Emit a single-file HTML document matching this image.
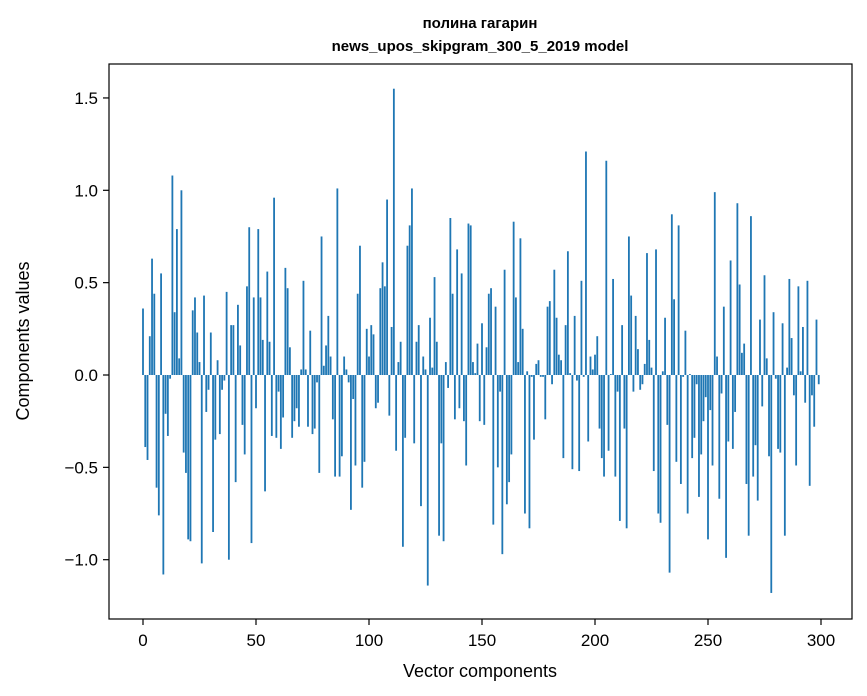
<!DOCTYPE html>
<html><head><meta charset="utf-8"><style>
html,body{margin:0;padding:0;background:#fff;}
svg{display:block;font-family:"Liberation Sans","DejaVu Sans",sans-serif;}
</style></head><body>
<svg id="chart" width="867" height="696" viewBox="0 0 867 696" xmlns="http://www.w3.org/2000/svg">
<rect width="867" height="696" fill="#fff"/>
<text x="480" y="28" text-anchor="middle" font-size="15" font-weight="bold">полина гагарин</text>
<text x="480" y="51" text-anchor="middle" font-size="15" font-weight="bold">news_upos_skipgram_300_5_2019 model</text>
<g id="bars"></g>
<g id="axes"></g>
<rect x="109" y="64" width="743" height="555" fill="none" stroke="#000" stroke-width="1.2"/>
<text x="480" y="677" text-anchor="middle" font-size="18">Vector components</text>
<text transform="translate(29,341) rotate(-90)" text-anchor="middle" font-size="18">Components values</text>
</svg>
<script>
const values = [
0.36,-0.39,-0.46,0.21,0.63,0.44,-0.61,-0.76,0.55,-1.08,
-0.21,-0.33,-0.02,1.08,0.34,0.79,0.09,1.0,-0.42,-0.53,
-0.89,-0.9,0.35,0.42,0.23,0.07,-1.02,0.43,-0.2,-0.08,
0.23,-0.85,-0.35,0.08,-0.32,-0.08,-0.03,0.45,-1.0,0.27,
0.27,-0.58,0.38,0.16,-0.27,-0.43,0.48,0.8,-0.91,0.42,
-0.18,0.79,0.42,0.19,-0.63,0.56,0.18,-0.33,0.96,-0.34,
-0.09,-0.4,-0.23,0.58,0.47,0.15,-0.34,-0.25,-0.18,-0.28,
0.03,0.51,0.03,-0.28,0.24,-0.32,-0.29,-0.04,-0.53,0.75,
0.05,0.16,0.32,0.10,-0.24,-0.55,1.01,-0.55,-0.44,0.10,
0.03,-0.04,-0.73,-0.13,-0.49,0.44,0.70,-0.61,-0.47,0.25,
0.10,0.27,0.22,-0.18,-0.15,0.47,0.61,0.48,0.95,-0.22,
0.26,1.55,-0.41,0.07,0.18,-0.93,-0.34,0.70,0.81,1.01,
-0.37,0.18,0.27,-0.71,0.10,0.03,-1.14,0.31,0.04,0.53,
0.18,-0.87,-0.37,-0.90,0.07,-0.07,0.85,0.44,-0.24,0.68,
-0.18,0.55,-0.25,-0.49,0.82,0.81,0.07,0.01,0.17,-0.25,
0.28,-0.27,0.15,0.44,0.47,-0.81,0.37,-0.50,-0.09,-0.97,
0.57,-0.70,-0.58,-0.43,0.83,0.42,0.07,0.74,0.25,-0.75,
0.02,-0.83,-0.01,-0.35,0.06,0.08,-0.01,-0.01,-0.24,0.37,
0.40,-0.05,0.57,0.31,0.11,0.08,-0.45,0.27,0.67,0.01,
-0.51,0.32,-0.03,-0.52,0.51,-0.01,1.21,-0.36,0.10,0.03,
0.11,0.21,-0.29,-0.45,-0.55,1.16,-0.41,0.005,0.52,-0.55,
-0.09,-0.79,0.27,-0.29,-0.83,0.75,0.43,-0.09,0.32,0.14,
-0.08,-0.05,0.06,0.66,0.19,0.04,-0.52,0.68,-0.75,-0.80,
0.02,0.31,-0.27,-1.07,0.87,0.41,-0.47,0.81,-0.59,-0.01,
0.24,-0.75,0.005,-0.45,-0.34,-0.05,-0.66,-0.43,-0.25,-0.12,
-0.89,-0.19,-0.49,0.99,0.10,-0.67,-0.10,0.37,-0.99,-0.36,
0.62,-0.40,-0.20,0.93,0.49,0.12,0.17,-0.59,-0.87,0.86,
-0.55,-0.38,-0.68,0.30,-0.17,0.54,0.09,-0.44,-1.18,0.34,
-0.02,-0.40,-0.42,0.28,-0.87,0.04,0.52,0.20,-0.11,-0.49,
0.48,0.02,0.26,-0.15,0.51,-0.60,-0.11,-0.28,0.30,-0.05
];
const xTicks = [0,50,100,150,200,250,300];
const yTicks = [-1.0,-0.5,0.0,0.5,1.0,1.5];
const NS = "http://www.w3.org/2000/svg";
function xs(v){ return 143 + v*2.26; }
function ys(v){ return 375 - v*184.7; }
const gb = document.getElementById('bars');
values.forEach((v,i)=>{
  const r = document.createElementNS(NS,'rect');
  
  
  const x0 = xs(i-0.4), x1 = xs(i+0.4);
  const y0 = ys(Math.max(v,0)), y1 = ys(Math.min(v,0));
  r.setAttribute('x',x0); r.setAttribute('width',x1-x0);
  r.setAttribute('y',y0); r.setAttribute('height',Math.max(y1-y0,0.3));
  r.setAttribute('fill','#1f77b4');
  gb.appendChild(r);
});
const ga = document.getElementById('axes');
xTicks.forEach(t=>{
  const l = document.createElementNS(NS,'line');
  
  
  l.setAttribute('x1',xs(t)); l.setAttribute('x2',xs(t));
  l.setAttribute('y1',619); l.setAttribute('y2',625);
  l.setAttribute('stroke','#000'); l.setAttribute('stroke-width','1.2');
  ga.appendChild(l);
  const tx = document.createElementNS(NS,'text');
  
  
  tx.setAttribute('x',xs(t)); tx.setAttribute('y',646);
  tx.setAttribute('text-anchor','middle'); tx.setAttribute('font-size','17');
  tx.textContent = String(t);
  ga.appendChild(tx);
});
yTicks.forEach(t=>{
  const l = document.createElementNS(NS,'line');
  
  
  l.setAttribute('x1',103); l.setAttribute('x2',109);
  l.setAttribute('y1',ys(t)); l.setAttribute('y2',ys(t));
  l.setAttribute('stroke','#000'); l.setAttribute('stroke-width','1.2');
  ga.appendChild(l);
  const tx = document.createElementNS(NS,'text');
  
  
  tx.setAttribute('x',98); tx.setAttribute('y',ys(t)+6);
  tx.setAttribute('text-anchor','end'); tx.setAttribute('font-size','17');
  tx.textContent = (t<0?'\u2212':'') + Math.abs(t).toFixed(1);
  ga.appendChild(tx);
});
</script>
</body></html>
